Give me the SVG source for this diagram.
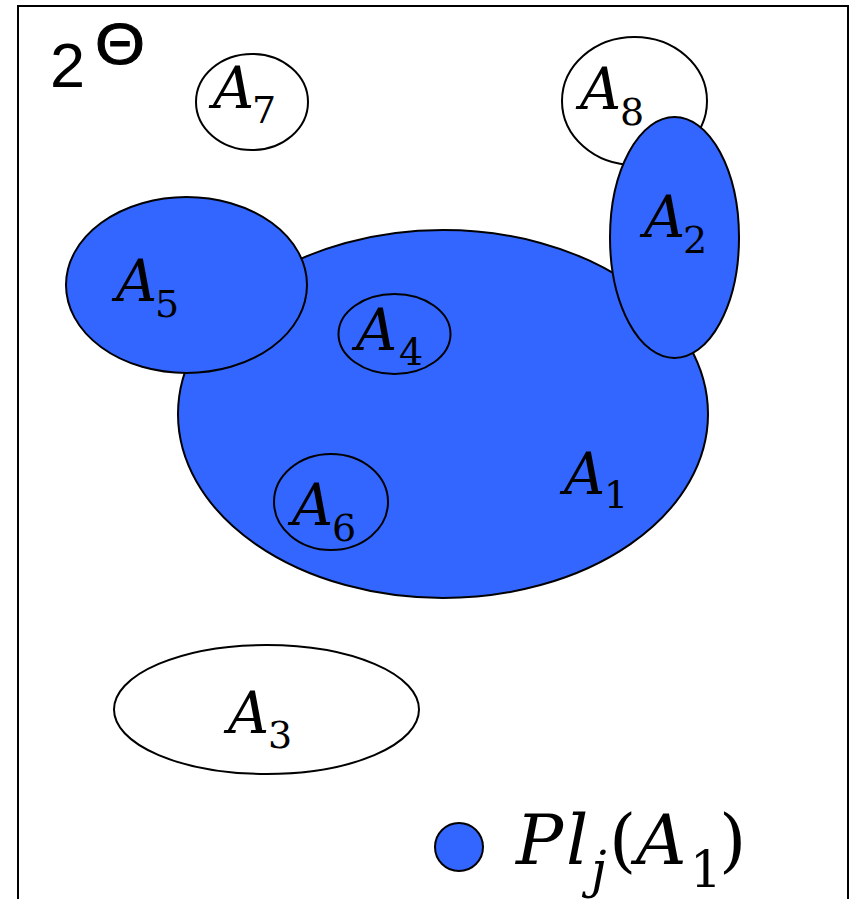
<svg xmlns="http://www.w3.org/2000/svg" width="852" height="899" viewBox="0 0 852 899">
<style>
.set{stroke:#000;stroke-width:2}
.blue{fill:#3366FF}
.white{fill:#FFFFFF}
.lbl{font-family:'DejaVu Serif',serif;font-size:57px;font-style:italic;fill:#000}
.leg{font-family:'DejaVu Serif',serif;font-size:70px;font-style:italic;fill:#000}
.sub{font-style:normal;font-size:38px}
.lsub{font-size:50px}
.up{font-style:normal}
.sans{font-family:'Liberation Sans',Arial,sans-serif;fill:#000}
</style>
<rect x="0" y="0" width="852" height="899" fill="#FFFFFF"/>
<rect id="frame" x="18" y="6" width="830" height="920" fill="none" stroke="#000" stroke-width="2"/>
<g id="connectors"></g>
<g id="title">
<text class="sans" x="50" y="87" font-size="63">2</text>
<text class="sans" x="95" y="64" font-size="57" stroke="#000" stroke-width="1" textLength="50" lengthAdjust="spacingAndGlyphs">Θ</text>
</g>
<g id="A7">
<ellipse class="set white" cx="252" cy="102" rx="56" ry="48"/>
<text class="lbl" x="213" y="108">A<tspan class="sub" x="252" y="123">7</tspan></text>
</g>
<g id="A8">
<ellipse class="set white" cx="634.5" cy="101" rx="72.5" ry="64"/>
<text class="lbl" x="580" y="109">A<tspan class="sub" x="620" y="125">8</tspan></text>
</g>
<g id="A1">
<ellipse class="set blue" cx="443" cy="414" rx="265" ry="184"/>
<text class="lbl" x="564" y="494">A<tspan class="sub" x="604" y="508">1</tspan></text>
</g>
<g id="A5">
<ellipse class="set blue" cx="186.5" cy="285" rx="120.5" ry="88"/>
<text class="lbl" x="116" y="301">A<tspan class="sub" x="155" y="317">5</tspan></text>
</g>
<g id="A2">
<ellipse class="set blue" cx="674.5" cy="237.5" rx="64.5" ry="120.5"/>
<text class="lbl" x="644" y="237">A<tspan class="sub" x="683" y="253">2</tspan></text>
</g>
<g id="A4">
<ellipse class="set blue" cx="394.5" cy="334" rx="56" ry="40"/>
<text class="lbl" x="356" y="350">A<tspan class="sub" x="399" y="365">4</tspan></text>
</g>
<g id="A6">
<ellipse class="set blue" cx="331" cy="502" rx="57" ry="48"/>
<text class="lbl" x="292" y="525">A<tspan class="sub" x="332" y="541">6</tspan></text>
</g>
<g id="A3">
<ellipse class="set white" cx="266.5" cy="709.5" rx="152.5" ry="64.5"/>
<text class="lbl" x="228" y="733">A<tspan class="sub" x="268" y="748">3</tspan></text>
</g>
<g id="legend">
<circle class="set blue" cx="459" cy="847" r="24"/>
<text class="leg" x="516" y="864">P<tspan x="566">l</tspan><tspan class="lsub" x="591" y="887">j</tspan><tspan class="up" x="609" y="864">(</tspan><tspan x="636">A</tspan><tspan class="up lsub" x="690" y="887">1</tspan><tspan class="up" x="719" y="864">)</tspan></text>
</g>
</svg>
